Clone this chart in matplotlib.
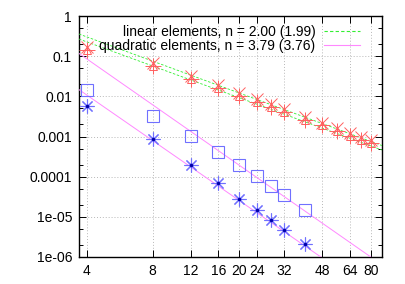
#convergence plot
import matplotlib
matplotlib.use('Agg')
import matplotlib.pyplot as plt
import matplotlib.ticker as mticker
import numpy as np

plt.rcParams['font.family'] = ['Liberation Sans', 'DejaVu Sans']

#linear elements: two error measures
n_lin = [4, 8, 12, 16, 20, 24, 28, 32, 40, 48, 56, 64, 72, 80]
err_lin_a = [0.17, 0.067, 0.032, 0.019, 0.012, 0.0086, 0.0065, 0.0048, 0.0031, 0.0022, 0.0016, 0.0012, 0.00098, 0.00082]
err_lin_b = [0.145, 0.057, 0.027, 0.016, 0.0102, 0.0073, 0.0055, 0.0041, 0.0026, 0.0019, 0.00136, 0.00102, 0.00083, 0.0007]

#quadratic elements
n_quad = [4, 8, 12, 16, 20, 24, 28, 32, 40]
err_quad_a = [0.0144, 0.0032, 0.00103, 0.00041, 0.000195, 0.000105, 5.9e-5, 3.5e-5, 1.48e-5]
err_quad_b = [0.0057, 0.00087, 0.000195, 6.9e-5, 2.8e-5, 1.48e-5, 8.3e-6, 4.7e-6, 2.1e-6]

#fitted power laws  C * n^-p
fit_lin_C = [4.82, 3.57]
fit_lin_p = [2.00, 1.99]
fit_quad_C = [16.3, 1.97]
fit_quad_p = [3.79, 3.76]

labels = ['linear elements, n = 2.00 (1.99)', 'quadratic elements, n = 3.79 (3.76)']

xticks = [4, 8, 12, 16, 20, 24, 32, 48, 64, 80]
yticks = [1, 0.1, 0.01, 0.001, 0.0001, 1e-05, 1e-06]
ylabels = ['1', '0.1', '0.01', '0.001', '0.0001', '1e-05', '1e-06']

fig = plt.figure(figsize=(4.05, 2.84), dpi=100)
ax = fig.add_axes([79/405., 1-257/284., (382-79)/405., (257-16)/284.])
ax.set_xscale('log')
ax.set_yscale('log')
ax.set_xlim(3.68, 90)
ax.set_ylim(1e-6, 1)

green = '#33ee33'
pink = '#ff88ff'
xx = np.logspace(np.log10(3.68), np.log10(90), 50)
for i in range(2):
    ax.plot(xx, fit_lin_C[i]*xx**(-fit_lin_p[i]), color=green, lw=0.6, ls=(0, (3, 2)), zorder=3)
for i in range(2):
    ax.plot(xx, fit_quad_C[i]*xx**(-fit_quad_p[i]), color=pink, lw=0.7, zorder=3)

red = '#ff6060'
blue = '#7070ff'
ax.plot(n_lin, err_lin_a, ls='none', marker='x', ms=9, mew=0.7, color=red, zorder=4)
ax.plot(n_lin, err_lin_b, ls='none', marker='+', ms=11, mew=0.7, color=red, zorder=4)
ax.plot(n_lin, err_lin_b, ls='none', marker='^', ms=6, mew=0.7, mfc='none', mec=red, zorder=4)
ax.plot(n_quad, err_quad_a, ls='none', marker='s', ms=8.5, mew=0.8, mfc='none', mec=blue, zorder=4)
ax.plot(n_quad, err_quad_b, ls='none', marker=(8, 2, 0), ms=10, mew=0.8, color=blue, zorder=4)
ax.plot(n_quad, err_quad_b, ls='none', marker='o', ms=1.5, color='#0000aa', zorder=5)

ax.set_xticks(xticks)
ax.set_xticklabels([str(t) for t in xticks])
ax.xaxis.set_minor_locator(mticker.NullLocator())
ax.set_yticks(yticks)
ax.set_yticklabels(ylabels)
ax.yaxis.set_minor_locator(mticker.LogLocator(base=10, subs=(2, 5), numticks=20))
ax.yaxis.set_minor_formatter(mticker.NullFormatter())

ax.tick_params(which='both', direction='in', top=True, right=True, labelsize=10, width=0.7)
ax.tick_params(which='major', length=5, pad=5)
ax.tick_params(which='minor', length=3)
ax.grid(True, which='major', color='#b8b8b8', ls=(0, (1, 2)), lw=0.7)
for sp in ax.spines.values():
    sp.set_linewidth(1.0)

#legend drawn from proxy lines so the colours show
h1, = ax.plot([], [], color=green, lw=0.8, ls=(0, (3, 2)))
h2, = ax.plot([], [], color=pink, lw=0.8)
ax.legend([h1, h2], labels, loc='upper right', frameon=False, markerfirst=False, fontsize=10,
          handlelength=2.6, handletextpad=0.6, labelspacing=0.0,
          borderaxespad=0.3, borderpad=0.2, bbox_to_anchor=(0.95, 0.99))

plt.savefig('out.png', dpi=100)
